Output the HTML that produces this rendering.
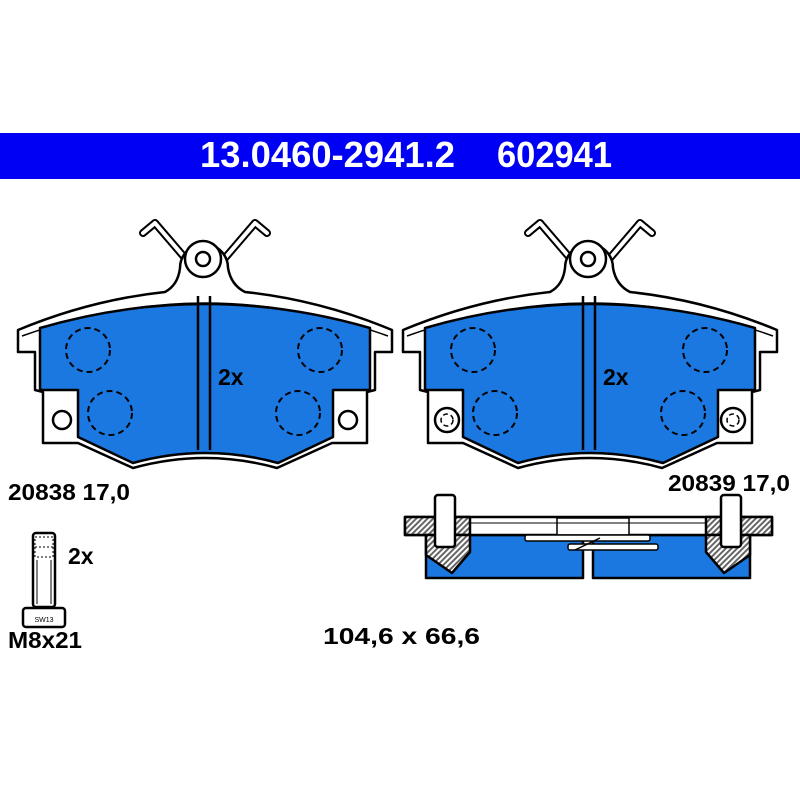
<!DOCTYPE html>
<html><head><meta charset="utf-8"><style>html,body{margin:0;padding:0;background:#fff}svg{display:block}</style></head>
<body>
<svg width="800" height="800" viewBox="0 0 800 800" xmlns="http://www.w3.org/2000/svg" font-family="Liberation Sans, sans-serif" font-weight="bold">
<defs>
<pattern id="h" width="4" height="4" patternUnits="userSpaceOnUse" patternTransform="rotate(45)">
<rect width="4" height="4" fill="#fff"/><rect width="2" height="4" fill="#666"/></pattern>
<g id="pad">
  <!-- wires -->
  <path d="M143,233 L155,223 L185,258 M267,233 L255,223 L225,258" fill="none" stroke="#000" stroke-width="8" stroke-linejoin="round" stroke-linecap="round"/>
  <path d="M143,233 L155,223 L185,258 M267,233 L255,223 L225,258" fill="none" stroke="#fff" stroke-width="4" stroke-linejoin="round" stroke-linecap="round"/>
  <!-- backing plate -->
  <path d="M18,330 Q90,300 165,292 Q178,285 180,268 A24,24 0 0 1 228,268 Q231,285 245,292 Q320,300 392,330 L392,352 L375,352 L375,390 L367,392 L367,443 L332,443 L277,468 Q205,448 133,468 L78,443 L43,443 L43,392 L35,390 L35,352 L18,352 Z" fill="#fff" stroke="#000" stroke-width="2.5" stroke-linejoin="round"/>
  <path d="M22,336 Q205,270 388,336" fill="none" stroke="#000" stroke-width="1.5"/>
  <circle cx="203" cy="259" r="18" fill="#fff" stroke="#000" stroke-width="2.5"/>
  <circle cx="203" cy="259" r="7" fill="#fff" stroke="#000" stroke-width="2.5"/>
  <!-- friction -->
  <path d="M40,328 Q205,280 370,328 L370,390 L333,390 L333,437 L278,463 Q205,443 133,463 L78,437 L78,390 L40,390 Z" fill="#1a78e0" stroke="#000" stroke-width="2.5" stroke-linejoin="round"/>
  <line x1="198" y1="296" x2="198" y2="450" stroke="#000" stroke-width="2.5"/>
  <line x1="210" y1="296" x2="210" y2="450" stroke="#000" stroke-width="2.5"/>
  <g fill="none" stroke="#000" stroke-width="2" stroke-dasharray="6,4">
    <circle cx="88" cy="350" r="22"/><circle cx="110" cy="413" r="22"/>
    <circle cx="320" cy="350" r="22"/><circle cx="298" cy="413" r="22"/>
  </g>
  <text x="218" y="385" font-size="23">2x</text>
</g>
</defs>
<rect x="0" y="133" width="800" height="46" fill="#0000f5"/>
<text x="200" y="167" font-size="36" fill="#fff" textLength="255" lengthAdjust="spacingAndGlyphs">13.0460-2941.2</text>
<text x="497" y="167" font-size="36" fill="#fff" textLength="115" lengthAdjust="spacingAndGlyphs">602941</text>

<use href="#pad"/>
<circle cx="62" cy="420" r="9" fill="#fff" stroke="#000" stroke-width="2.5"/>
<circle cx="348" cy="420" r="9" fill="#fff" stroke="#000" stroke-width="2.5"/>
<use href="#pad" transform="translate(385,0)"/>
<g fill="#fff" stroke="#000" stroke-width="2.5">
<circle cx="447" cy="420" r="12"/><circle cx="733" cy="420" r="12"/></g>
<g fill="none" stroke="#000" stroke-width="1.5" stroke-dasharray="5,3">
<circle cx="447" cy="420" r="6"/><circle cx="733" cy="420" r="6"/></g>

<text x="8" y="500" font-size="23" textLength="122" lengthAdjust="spacingAndGlyphs">20838 17,0</text>
<text x="668" y="491" font-size="23" textLength="122" lengthAdjust="spacingAndGlyphs">20839 17,0</text>

<!-- bolt -->
<rect x="33" y="533" width="22" height="74" rx="3" fill="#fff" stroke="#000" stroke-width="2.5"/>
<rect x="35" y="537" width="18" height="20" fill="#fff" stroke="#000" stroke-width="1" stroke-dasharray="2,2"/>
<line x1="35" y1="547" x2="53" y2="547" stroke="#000" stroke-dasharray="2,2"/>
<line x1="37" y1="560" x2="37" y2="604" stroke="#000" stroke-width="1"/>
<line x1="51" y1="560" x2="51" y2="604" stroke="#000" stroke-width="1"/>
<rect x="23" y="608" width="42" height="19" rx="3" fill="#fff" stroke="#000" stroke-width="2.5"/>
<text x="44" y="622" font-size="7" text-anchor="middle" font-weight="normal">SW13</text>
<text x="68" y="564" font-size="23">2x</text>
<text x="8" y="648" font-size="23" textLength="74" lengthAdjust="spacingAndGlyphs">M8x21</text>
<text x="323" y="644" font-size="23" textLength="157" lengthAdjust="spacingAndGlyphs">104,6 x 66,6</text>

<!-- cross section -->
<g stroke="#000" stroke-width="2.5" stroke-linejoin="round">
<rect x="426" y="535" width="157" height="43" fill="#1a78e0"/>
<rect x="593" y="535" width="157" height="43" fill="#1a78e0"/>
<rect x="405" y="517" width="367" height="18" fill="#fff"/>
<rect x="405" y="517" width="65" height="18" fill="url(#h)"/>
<rect x="706" y="517" width="66" height="18" fill="url(#h)"/>
<path d="M426,535 L470,535 L470,552 L452,573 L426,555 Z" fill="url(#h)"/>
<path d="M706,535 L750,535 L750,555 L724,573 L706,552 Z" fill="url(#h)"/>
<rect x="435" y="495" width="20" height="52" rx="3" fill="#fff"/>
<rect x="721" y="495" width="20" height="52" rx="3" fill="#fff"/>
<rect x="557" y="518" width="72" height="17" fill="#fff" stroke-width="1.5"/>
<rect x="525" y="535" width="125" height="6" rx="2" fill="#fff" stroke-width="1.5"/>
<rect x="568" y="544" width="90" height="6" rx="2" fill="#fff" stroke-width="1.5"/>
<line x1="575" y1="550" x2="600" y2="538" stroke-width="1.5"/>
</g>
<line x1="470" y1="523" x2="706" y2="523" stroke="#000" stroke-width="1"/>
</svg>
</body></html>
